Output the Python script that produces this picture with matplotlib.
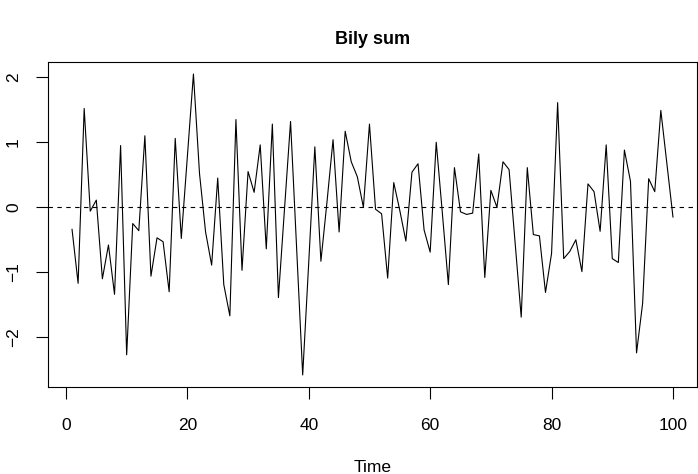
import matplotlib
matplotlib.use("Agg")
import matplotlib.pyplot as plt
import numpy as np

plt.rcParams['font.family'] = ['Liberation Sans', 'DejaVu Sans']

# white noise series
time = list(range(1, 101))
values = [
    -0.34, -1.17, 1.52, -0.06, 0.11, -1.10, -0.58, -1.34, 0.95, -2.27,
    -0.25, -0.36, 1.10, -1.06, -0.47, -0.53, -1.30, 1.06, -0.48, 0.78,
    2.05, 0.52, -0.38, -0.89, 0.45, -1.19, -1.67, 1.35, -0.97, 0.55,
    0.23, 0.96, -0.64, 1.28, -1.39, -0.03, 1.32, -0.63, -2.58, -0.84,
    0.93, -0.83, 0.08, 1.04, -0.38, 1.17, 0.70, 0.47, 0.00, 1.28,
    -0.03, -0.10, -1.09, 0.38, -0.05, -0.52, 0.54, 0.67, -0.35, -0.69,
    1.00, -0.08, -1.19, 0.61, -0.07, -0.11, -0.09, 0.82, -1.08, 0.26,
    0.00, 0.70, 0.58, -0.55, -1.69, 0.61, -0.42, -0.44, -1.31, -0.71,
    1.61, -0.79, -0.68, -0.50, -0.99, 0.36, 0.24, -0.37, 0.96, -0.79,
    -0.85, 0.88, 0.40, -2.24, -1.48, 0.44, 0.24, 1.49, 0.67, -0.15,
]
x_ticks = [0, 20, 40, 60, 80, 100]
y_ticks = [-2, -1, 0, 1, 2]

fig = plt.figure(figsize=(6.98, 4.74), dpi=100)
ax = fig.add_axes([48 / 698, 1 - 387 / 474, 649 / 698, 325 / 474])

ax.plot(time, values, color='black', linewidth=0.8)
ax.axhline(0, color='black', linewidth=0.8, linestyle=(0, (4, 4)))
ax.margins(x=0.04, y=0.04)

ax.set_xticks(x_ticks)
ax.set_yticks(y_ticks)
ax.set_yticklabels([str(v).replace('-', '\u2212') for v in y_ticks],
                   rotation=90, va='center')
ax.tick_params(axis='both', length=8.5, width=0.8, labelsize=12.5,
               direction='out')
ax.tick_params(axis='x', pad=14)
ax.tick_params(axis='y', pad=11)
for sp in ax.spines.values():
    sp.set_linewidth(0.8)

ax.set_xlabel('Time', fontsize=12.5, labelpad=19)
ax.set_title('Bily sum', fontsize=13, fontweight='bold', pad=13)

fig.savefig('out.png', dpi=100)
